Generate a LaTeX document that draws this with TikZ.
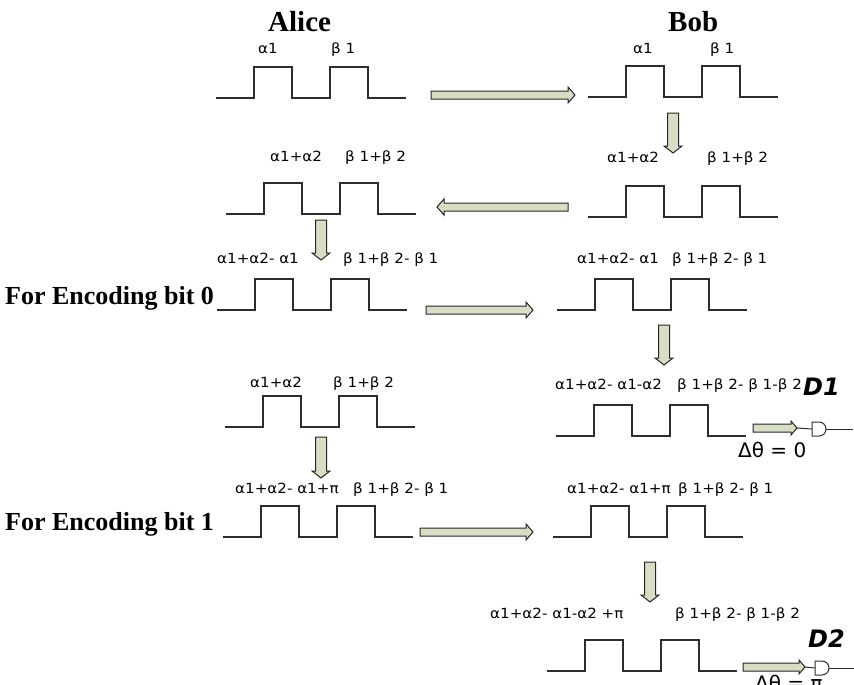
\documentclass[tikz,border=0pt]{standalone}
\usepackage{fontspec}
\setmainfont{Liberation Serif}
\newfontfamily\lblfont[FakeStretch=1.08]{DejaVu Sans}
\newfontfamily\dfont{DejaVu Sans}
\usetikzlibrary{calc}
\definecolor{arrfill}{RGB}{216,222,196}
\definecolor{wavec}{RGB}{45,45,45}
\tikzset{
  wave/.style={draw=wavec, line width=1.1pt, line join=miter},
  lbl/.style={anchor=base west, inner sep=0pt, font=\lblfont\fontsize{14}{16}\selectfont},
  ttl/.style={anchor=base west, inner sep=0pt, font=\bfseries\fontsize{29}{32}\selectfont},
  enc/.style={anchor=base west, inner sep=0pt, font=\bfseries\fontsize{26}{30}\selectfont},
  detlbl/.style={anchor=base west, inner sep=0pt, font=\dfont\bfseries\itshape\fontsize{24}{28}\selectfont},
  dth/.style={anchor=base west, inner sep=0pt, font=\dfont\fontsize{20}{24}\selectfont},
  barrow/.style={draw=black!85, fill=arrfill, line width=1pt, line join=miter},
  gateline/.style={draw=wavec, line width=1pt},
}
% square wave: name, start x, baseline y
\newcommand\sqwave[3]{%
  \coordinate (#1) at (#2,#3);
  \draw[wave] (#1) -- ++(38,0) -- ++(0,-31) -- ++(38,0) -- ++(0,31) -- ++(38,0)
    -- ++(0,-31) -- ++(38,0) -- ++(0,31) -- ++(38,0);
}
% block arrow: tail, tip, half shaft, half head, head length
\newcommand\blockarrow[5]{%
  \coordinate (hb) at ($(#2)!#5!(#1)$);
  \draw[barrow] ($(#1)!#3!90:(#2)$) -- ($(hb)!#3!-90:(#1)$) -- ($(hb)!#4!-90:(#1)$)
    -- (#2) -- ($(hb)!#4!90:(#1)$) -- ($(hb)!#3!90:(#1)$) -- ($(#1)!#3!-90:(#2)$) -- cycle;
}
% detector gate: name, left x, centre y
\newcommand\detgate[3]{%
  \coordinate (#1in) at (#2,#3);
  \draw[gateline] (#2,#3-7) -- ++(7,0) arc[start angle=90, end angle=-90, radius=7pt] -- (#2,#3+7) -- cycle;
  \coordinate (#1out) at (#2+14,#3);
}
\begin{document}
\begin{tikzpicture}[x=1pt, y=-1pt]
\useasboundingbox (0,0) rectangle (854,685);
\clip (0,0) rectangle (854,685);

% titles
\node[ttl] (alice) at (268,32) {Alice};
\node[ttl] (bob) at (668,32) {Bob};
\node[enc] (enc0) at (5,304) {For Encoding bit 0};
\node[enc] (enc1) at (5,530) {For Encoding bit 1};

% waveforms
\sqwave{A1}{216}{98}
\sqwave{B1}{588}{97}
\sqwave{A2}{226}{214}
\sqwave{B2}{588}{217}
\sqwave{A3}{217}{310}
\sqwave{B3}{557}{310}
\sqwave{A4}{225}{427}
\sqwave{B4}{556}{436}
\sqwave{A5}{223}{537}
\sqwave{B5}{553}{537}
\sqwave{B6}{547}{671}

% labels
\node[lbl] (la1a) at (258,54) {α1};
\node[lbl] (la1b) at (331,54) {β 1};
\node[lbl] (lb1a) at (633,54) {α1};
\node[lbl] (lb1b) at (710,54) {β 1};
\node[lbl] (la2a) at (270,161) {α1+α2};
\node[lbl] (la2b) at (345,161) {β 1+β 2};
\node[lbl] (lb2a) at (607,162) {α1+α2};
\node[lbl] (lb2b) at (707,162) {β 1+β 2};
\node[lbl] (la3a) at (217,263) {α1+α2- α1};
\node[lbl] (la3b) at (343,263) {β 1+β 2- β 1};
\node[lbl] (lb3a) at (577,263) {α1+α2- α1};
\node[lbl] (lb3b) at (672,263) {β 1+β 2- β 1};
\node[lbl] (la4a) at (250,387) {α1+α2};
\node[lbl] (la4b) at (333,387) {β 1+β 2};
\node[lbl] (lb4a) at (555,389) {α1+α2- α1-α2};
\node[lbl] (lb4b) at (677,389) {β 1+β 2- β 1-β 2};
\node[lbl] (la5a) at (235,493) {α1+α2- α1+π};
\node[lbl] (la5b) at (353,493) {β 1+β 2- β 1};
\node[lbl] (lb5a) at (567,493) {α1+α2- α1+π};
\node[lbl] (lb5b) at (678,493) {β 1+β 2- β 1};
\node[lbl] (lb6a) at (490,618) {α1+α2- α1-α2 +π};
\node[lbl] (lb6b) at (675,618) {β 1+β 2- β 1-β 2};

\node[detlbl] (d1) at (803,395) {D1};
\node[detlbl] (d2) at (808,647) {D2};
\node[dth] (th0) at (738,457) {Δθ = 0};
\node[dth] (thpi) at (755,690) {Δθ = π};

% block arrows
\coordinate (h1s) at (431,95);  \coordinate (h1e) at (575,95);
\coordinate (v1s) at (673,113); \coordinate (v1e) at (673,153);
\coordinate (h2s) at (568,207); \coordinate (h2e) at (437,207);
\coordinate (v2s) at (321,220); \coordinate (v2e) at (321,260);
\coordinate (h3s) at (426,310); \coordinate (h3e) at (533,310);
\coordinate (v3s) at (664,325); \coordinate (v3e) at (664,365);
\coordinate (v4s) at (321,437); \coordinate (v4e) at (321,478);
\coordinate (h5s) at (420,532); \coordinate (h5e) at (533,532);
\coordinate (v5s) at (650,562); \coordinate (v5e) at (650,602);
\coordinate (h4s) at (753,428); \coordinate (h4e) at (797,428);
\coordinate (h6s) at (743,667); \coordinate (h6e) at (805,667);

\blockarrow{h1s}{h1e}{4pt}{8pt}{7pt}
\blockarrow{v1s}{v1e}{5.5pt}{9pt}{7pt}
\blockarrow{h2s}{h2e}{4pt}{8pt}{7pt}
\blockarrow{v2s}{v2e}{5.5pt}{9pt}{7pt}
\blockarrow{h3s}{h3e}{4pt}{8pt}{7pt}
\blockarrow{v3s}{v3e}{5.5pt}{9pt}{7pt}
\blockarrow{v4s}{v4e}{5.5pt}{9pt}{7pt}
\blockarrow{h5s}{h5e}{4pt}{8pt}{7pt}
\blockarrow{v5s}{v5e}{5.5pt}{9pt}{7pt}
\blockarrow{h4s}{h4e}{4pt}{7pt}{6pt}
\blockarrow{h6s}{h6e}{4pt}{7pt}{6pt}

% detectors
\detgate{g1}{812}{429}
\coordinate (g1end) at (853,429);
\draw[gateline] (h4e) -- (g1in);
\draw[gateline] (g1out) -- (g1end);
\detgate{g2}{815}{668}
\coordinate (g2end) at (854,668);
\draw[gateline] (h6e) -- (g2in);
\draw[gateline] (g2out) -- (g2end);
\end{tikzpicture}
\end{document}
